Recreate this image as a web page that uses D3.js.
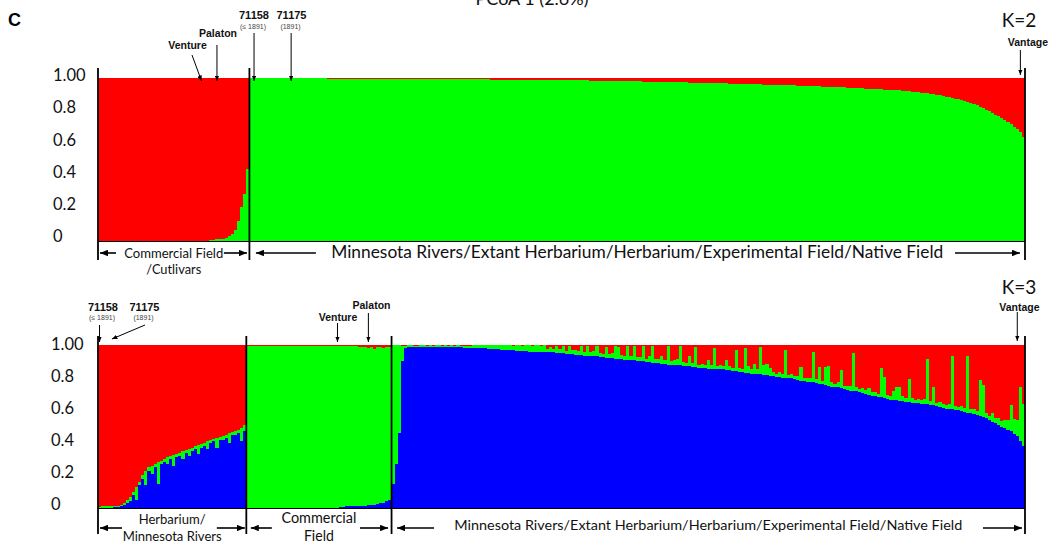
<!DOCTYPE html>
<html>
<head>
<meta charset="utf-8">
<title>STRUCTURE membership, K=2 and K=3</title>
<script src="https://cdn.jsdelivr.net/npm/d3@7/dist/d3.min.js"></script>
<style>
  html, body { margin: 0; padding: 0; background: #fff; }
  svg { display: block; }
</style>
</head>
<body>
<svg id="chart" width="1049" height="544"></svg>
<script>
// ---------------------------------------------------------------------------
// Membership coefficients (percent), one value per individual, left to right.
// ---------------------------------------------------------------------------

// K = 2: red cluster membership; green is the remainder.
const k2GroupSizes = [49, 251];
const k2GroupLabels = [
  ["Commercial Field", "/Cutlivars"],
  ["Minnesota Rivers/Extant Herbarium/Herbarium/Experimental Field/Native Field"]
];
const k2Red = [
  // Commercial field / cultivars
  100,100,100,100,100,100,100,100,100,100,100,100,
  100,100,100,100,100,100,100,100,100,100,100,100,
  100,100,100,100,100,100,100,100,100,100,100,100,
  99.5,99.5,99,99,98.5,98,97,96,93,88,79,71,56,
  // Rivers / herbarium / experimental and native field
  0.3,0.3,0.3,0.3,0.3,0.3,0.3,0.3,0.3,0.3,
  0.3,0.3,0.3,0.3,0.3,0.3,0.3,0.3,0.3,0.3,
  0.3,0.3,0.3,0.3,0.3,0.4,0.4,0.4,0.4,0.4,
  0.4,0.4,0.4,0.4,0.4,0.4,0.4,0.4,0.4,0.4,
  0.4,0.4,0.4,0.4,0.4,0.5,0.5,0.5,0.5,0.5,
  0.5,0.5,0.5,0.5,0.5,0.5,0.5,0.5,0.5,0.5,
  0.5,0.5,0.5,0.5,0.5,0.6,0.6,0.6,0.6,0.6,
  0.8,0.8,0.8,0.8,0.9,0.9,0.9,0.9,1,1,
  1,1,1,1,1,1,1,1,1,1,
  1.1,1.1,1.1,1.1,1.1,1.2,1.2,1.2,1.2,1.2,
  1.2,1.3,1.3,1.3,1.4,1.4,1.4,1.5,1.5,1.5,
  1.6,1.6,1.6,1.7,1.7,1.7,1.8,1.8,1.8,1.9,
  1.9,1.9,2,2,2,2.1,2.1,2.2,2.2,2.2,
  2.3,2.3,2.4,2.4,2.4,2.5,2.5,2.6,2.6,2.6,
  2.7,2.7,2.8,2.8,2.9,2.9,3,3,3,3.1,
  3.1,3.2,3.2,3.3,3.3,3.4,3.4,3.5,3.5,3.6,
  3.6,3.7,3.7,3.8,3.9,3.9,4,4,4.1,4.2,
  4.2,4.3,4.4,4.4,4.5,4.6,4.6,4.7,4.8,4.9,
  4.9,5,5.1,5.1,5.2,5.3,5.4,5.4,5.5,5.6,
  5.7,5.8,5.8,5.9,6,6.1,6.2,6.3,6.4,6.5,
  6.6,6.7,6.8,6.9,7,7.1,7.2,7.3,7.4,7.5,
  7.6,7.8,8,8.2,8.4,8.6,8.8,9,9.2,9.5,
  9.8,10.1,10.4,10.7,11,11.4,11.8,12.2,12.6,13.1,
  13.6,14.1,14.7,15.3,16,16.8,17.6,18.5,19.5,20.5,
  21.5,22.5,23.5,24.5,25.5,27,28.5,30,31.5,33,
  36
];

// K = 3: blue and green membership; red is the remainder.
const k3GroupSizes = [48, 47, 205];
const k3GroupLabels = [
  ["Herbarium/", "Minnesota Rivers"],
  ["Commercial", "Field"],
  ["Minnesota Rivers/Extant Herbarium/Herbarium/Experimental Field/Native Field"]
];
const k3Blue = [
  // Herbarium / Minnesota Rivers
  0,0,0,0,0,0.5,0.5,1,2,3,
  4,8,5,14,18,14,23,21,25,15,
  27,28,27,30,26,31,32,30,34,32,
  35,36,33,37,38,36,40,41,37,42,
  42,43,40,45,45,46,41,47,
  // Commercial field
  0,0,0,0,0,0,0,0,0,0,
  0,0,0,0,0,0,0,0,0,0,
  0,0,0,0,0,0,0,0,0,0,
  0.5,0.5,1,1,1,1,1.5,1.5,1,2,
  2,2,2.5,3,3,4,5,
  // Rivers / herbarium / experimental and native field
  15,27,46,90,98,99,99,99,99,99,
  99,99,99,99,99,99,99,98.5,98.5,98.5,
  98.5,98.5,98.5,98,98,98,98,98,98,98,
  98,97.5,97.5,97.5,97.5,97,97,97,97,97,
  96.5,96.5,96.5,96.5,96,96,96,96,96,96,
  95.5,95.5,95.5,95,95,95,94.5,94.5,94.5,94,
  94,94,93.5,93.5,93.5,93,93,92.5,92.5,92,
  92,92,91.5,91.5,91.5,91,91,90.5,90.5,90,
  90,90,89.5,89.5,89,89,89,88.5,88.5,88,
  88,88,87.5,87.5,87,87,87,86.5,86.5,86,
  86,86,85.5,85.5,85.5,85,85,85,84.5,84.5,
  84,84,83.5,83.5,83,83,82.5,82.5,82,82,
  81.5,81.5,81,81,80.5,80.5,80,80,79.5,79.5,
  79,78.5,78,78,77.5,77,77,76.5,76,76,
  75.5,75,74.5,74,74,73.5,73,72.5,72,72,
  71.5,71,70.5,70,69.5,69,68.5,68,68,67.5,
  67,66.5,66,66,65.5,65.5,65,65,64.5,64.5,
  64.5,64,64,63.5,63,63,62.5,62,61.5,61,
  61,60.5,60,60,59.5,59,58.5,58,57.5,57,
  56.5,56,55,54,53,52,51,50,49,48,
  47,45.5,44,41,38
];
const k3Green = [
  // Herbarium / Minnesota Rivers
  0.5,1,1,1,1,0.5,1,1,1,2,
  3,2,8,2,2,9,2,5,2,13,
  2,2,4,2,6.5,2,2,5,1.5,4,
  2,2,5.5,2,2,5,2,1.5,6,1.5,
  2,2,6,1.5,2,2,8,4,
  // Commercial field
  99.5,99.5,99.5,99.5,99.5,99.5,99.5,99.5,99.5,99.5,
  99.5,99.5,99.5,99.5,99.5,99.5,99.5,99.5,99.5,99.5,
  99.5,99.5,99.5,99.5,99.5,99.5,99.5,99.5,99.5,99.5,
  99,99,98.5,98.5,98.5,98.5,97.5,97,98,96,
  97,95.5,96,96,95,94.5,94,
  // Rivers / herbarium / experimental and native field
  85,73,54,9.5,1.5,1,1,0.5,0.5,1,
  1,0.5,1,0.5,1,1,0.5,1.5,1,1.5,
  1,1.5,1,1.5,1.5,1.5,2,2,2,2,
  2,2.5,2.5,2.5,2.5,3,3,3,3,2.5,
  3.5,3.5,3,3.5,4,3.5,4,4,3.5,4,
  2,3.5,2,4.5,2.5,4.5,2,5,2.5,3,
  2.5,5.5,2.5,6,2.5,3.5,6.5,2.5,2,7,
  2.5,3,8,7.5,2.5,2.5,8.5,3,9,2.5,
  2.5,9.5,2,3.5,10.5,2.5,2.5,5,2.5,11.5,
  2,2.5,4,12,2.5,2,6,2.5,12.5,2,
  2.5,2,5,2.5,12.5,2,2.5,2,6.5,2.5,
  2,13,2.5,2,15,4,2.5,6,3,16.5,
  6,7,5,2.5,2,3,2.5,17,2,2.5,
  2,2.5,8.5,2,2.5,3,19,2.5,10.5,2,
  11,12,2.5,2,3,11,2,2.5,3,23,
  2.5,2,3,2.5,4,2,2.5,2,18,13,
  2.5,2,6,8,9,3,2.5,14,3,2,
  2.5,2,3,28,2.5,11,2,3,2.5,2,
  3,33,2.5,2,3,2.5,35,3,3,2.5,
  22,19.5,3,2.5,5,3,4,3.5,5,6,
  16,9,10,33.5,26
];

// y-axis ticks
const tickValues = [1, 0.8, 0.6, 0.4, 0.2, 0];
const tickLabels = ["1.00", "0.8", "0.6", "0.4", "0.2", "0"];

// Named accessions flagged above the bars (index = position in plotting order)
const k2NoteNames = ["Venture", "Palaton", "71158", "71175", "Vantage"];
const k2NoteSubs  = [null, null, "(\u2264 1891)", "(1891)", null];
const k2NoteIndex = [33, 38, 50, 62, 298];
const k3NoteNames = ["71158", "71175", "Venture", "Palaton", "Vantage"];
const k3NoteSubs  = ["(\u2264 1891)", "(1891)", null, null, null];
const k3NoteIndex = [0, 4, 77, 87, 297];

// ---------------------------------------------------------------------------
// Layout and styling
// ---------------------------------------------------------------------------
const PLOT_L = 98, PLOT_R = 1025;
const colors = { red: "#ff0000", green: "#00ff00", blue: "#0000ff" };
const CAL = "Lato, 'Open Sans', sans-serif";
const HEL = "'Liberation Sans', Arial, sans-serif";

const svg = d3.select("#chart");
const defs = svg.append("defs");

function addHead(id, len, wid) {
  defs.append("marker")
    .attr("id", id)
    .attr("viewBox", "0 0 10 10")
    .attr("refX", 10).attr("refY", 5)
    .attr("markerUnits", "userSpaceOnUse")
    .attr("markerWidth", len).attr("markerHeight", wid)
    .attr("preserveAspectRatio", "none")
    .attr("orient", "auto")
    .append("path").attr("d", "M0,0L10,5L0,10Z").attr("fill", "#000");
}
addHead("headL", 8, 6.5);
addHead("headS", 5.5, 4.5);

const panels = [
  {
    keys: ["green", "red"],
    rows: k2Red.map(r => ({ green: (100 - r) / 100, red: r / 100 })),
    sizes: k2GroupSizes,
    labels: k2GroupLabels,
    top: 78, bottom: 241,
    labTop: 75, labBottom: 236, labX: 53,
    lineTop: 68, lineBottom: 260,
    arrowY: 253,
    groupLayout: [
      { font: 13.3, ys: [253, 269], widths: [99, 55], inL: 2, lenL: 16, inR: 2.5, lenR: 23 },
      { font: 16.5, ys: [252], widths: [612], inL: 6.5, lenL: 60, inR: 5, lenR: 65 }
    ],
    noteNames: k2NoteNames, noteSubs: k2NoteSubs, noteIndex: k2NoteIndex,
    noteLayout: [
      { lx: 187.5, ly: 45, ax: 192, ay: 55, ty: 81 },
      { lx: 218, ly: 33, ay: 45, ty: 81 },
      { lx: 254, ly: 15, sy: 27, ay: 33, ty: 81 },
      { lx: 291.5, ly: 15, sy: 27, ay: 33, ty: 81 },
      { lx: 1028, ly: 42, ay: 50, ty: 75 }
    ],
    kLabel: "K=2", kY: 20
  },
  {
    keys: ["blue", "green", "red"],
    rows: k3Blue.map((b, i) => ({
      blue: b / 100, green: k3Green[i] / 100, red: (100 - b - k3Green[i]) / 100
    })),
    sizes: k3GroupSizes,
    labels: k3GroupLabels,
    top: 345, bottom: 508,
    labTop: 344, labBottom: 504, labX: 51,
    lineTop: 336, lineBottom: 534,
    arrowY: 528,
    groupLayout: [
      { font: 13.2, ys: [519, 536.5], widths: [67, 99], inL: 2, lenL: 22, inR: 1.5, lenR: 28 },
      { font: 14.5, ys: [518, 535.5], widths: [75, 30], inL: 4.5, lenL: 21, inR: 3.5, lenR: 28 },
      { font: 13.8, ys: [525], widths: [508], inL: 5.5, lenL: 37, inR: 3, lenR: 39 }
    ],
    noteNames: k3NoteNames, noteSubs: k3NoteSubs, noteIndex: k3NoteIndex,
    noteLayout: [
      { lx: 103, ly: 307, sy: 318, ay: 325, ty: 342 },
      { lx: 144.5, ly: 307, sy: 318, ax: 145, ay: 325, ty: 339 },
      { lx: 338, ly: 317, ay: 323, ty: 342 },
      { lx: 371.5, ly: 305, ay: 313, ty: 342 },
      { lx: 1019.5, ly: 307, ay: 312, ty: 341 }
    ],
    kLabel: "K=3", kY: 287
  }
];

function drawPanel(p) {
  const n = p.rows.length;
  const x = d3.scaleBand().domain(d3.range(n)).range([PLOT_L, PLOT_R]).padding(0);
  const y = d3.scaleLinear().domain([0, 1]).range([p.bottom, p.top]);
  const g = svg.append("g");

  // stacked membership bars
  const layers = d3.stack().keys(p.keys)(p.rows);
  g.append("g").attr("shape-rendering", "crispEdges")
    .selectAll("g").data(layers).join("g")
    .attr("fill", d => colors[d.key])
    .selectAll("rect").data(d => d).join("rect")
    .attr("x", (d, i) => x(i))
    .attr("width", x.bandwidth())
    .attr("y", d => y(d[1]))
    .attr("height", d => Math.max(0, y(d[0]) - y(d[1])));

  // baseline under the bars
  g.append("line")
    .attr("x1", PLOT_L).attr("x2", PLOT_R)
    .attr("y1", p.bottom + 0.5).attr("y2", p.bottom + 0.5)
    .attr("stroke", "#000").attr("stroke-width", 1);

  // y axis: labels only, left aligned
  const yLab = d3.scaleLinear().domain([0, 1]).range([p.labBottom, p.labTop]);
  const ax = g.append("g")
    .attr("transform", `translate(${p.labX},0)`)
    .call(d3.axisLeft(yLab).tickValues(tickValues)
      .tickFormat((d, i) => tickLabels[i]).tickSize(0).tickPadding(0));
  ax.select(".domain").remove();
  ax.selectAll("text")
    .attr("x", 0).attr("dy", "0.35em")
    .attr("text-anchor", "start")
    .style("font-family", CAL).style("font-size", "16.5px").attr("fill", "#111");

  // group boundaries
  const bounds = [0];
  p.sizes.forEach(s => bounds.push(bounds[bounds.length - 1] + s));
  const edge = i => (i >= n ? x.range()[1] : x(i));
  g.selectAll("line.sep").data(bounds).join("line")
    .attr("class", "sep")
    .attr("x1", d => edge(d)).attr("x2", d => edge(d))
    .attr("y1", p.lineTop).attr("y2", p.lineBottom)
    .attr("stroke", "#000").attr("stroke-width", 1.8);

  // group labels and span arrows
  p.labels.forEach((lines, gi) => {
    const L = p.groupLayout[gi];
    const x0 = edge(bounds[gi]), x1 = edge(bounds[gi + 1]);
    const cx = (x0 + x1) / 2;
    lines.forEach((t, li) => {
      g.append("text")
        .attr("x", cx).attr("y", L.ys[li]).attr("dy", "0.35em")
        .attr("text-anchor", "middle")
        .attr("textLength", L.widths[li]).attr("lengthAdjust", "spacingAndGlyphs")
        .style("font-family", CAL).style("font-size", L.font + "px")
        .attr("fill", "#111").text(t);
    });
    g.append("line")
      .attr("x1", x0 + L.inL + L.lenL).attr("x2", x0 + L.inL)
      .attr("y1", p.arrowY).attr("y2", p.arrowY)
      .attr("stroke", "#000").attr("stroke-width", 1.6)
      .attr("marker-end", "url(#headL)");
    g.append("line")
      .attr("x1", x1 - L.inR - L.lenR).attr("x2", x1 - L.inR)
      .attr("y1", p.arrowY).attr("y2", p.arrowY)
      .attr("stroke", "#000").attr("stroke-width", 1.6)
      .attr("marker-end", "url(#headL)");
  });

  // flagged accessions
  p.noteNames.forEach((name, j) => {
    const L = p.noteLayout[j];
    const tipX = x(p.noteIndex[j]) + x.bandwidth() / 2;
    const numeric = /^\d/.test(name);
    g.append("text")
      .attr("x", L.lx).attr("y", L.ly).attr("dy", "0.35em")
      .attr("text-anchor", "middle")
      .style("font-family", HEL).style("font-weight", "bold")
      .style("font-size", numeric ? "11px" : "10.5px")
      .attr("fill", "#111").text(name);
    if (p.noteSubs[j]) {
      g.append("text")
        .attr("x", L.lx - 1).attr("y", L.sy).attr("dy", "0.35em")
        .attr("text-anchor", "middle")
        .style("font-family", HEL).style("font-size", "7px")
        .attr("fill", "#444").text(p.noteSubs[j]);
    }
    g.append("line")
      .attr("x1", L.ax !== undefined ? L.ax : tipX).attr("y1", L.ay)
      .attr("x2", tipX).attr("y2", L.ty)
      .attr("stroke", "#000").attr("stroke-width", 1)
      .attr("marker-end", "url(#headS)");
  });

  // K label
  svg.append("text")
    .attr("x", 1019).attr("y", p.kY).attr("dy", "0.35em")
    .attr("text-anchor", "middle")
    .style("font-family", CAL).style("font-size", "19px")
    .attr("fill", "#111").text(p.kLabel);
}

panels.forEach(drawPanel);

// panel letter and axis title (the title sits against the top edge)
svg.append("text")
  .attr("x", 8).attr("y", 20).attr("dy", "0.36em")
  .style("font-family", HEL).style("font-weight", "bold").style("font-size", "18px")
  .attr("fill", "#000").text("C");
svg.append("text")
  .attr("x", 532).attr("y", 5)
  .attr("text-anchor", "middle")
  .style("font-family", CAL).style("font-size", "18px")
  .attr("fill", "#111").text("PCoA 1 (2.6%)");
</script>
</body>
</html>
